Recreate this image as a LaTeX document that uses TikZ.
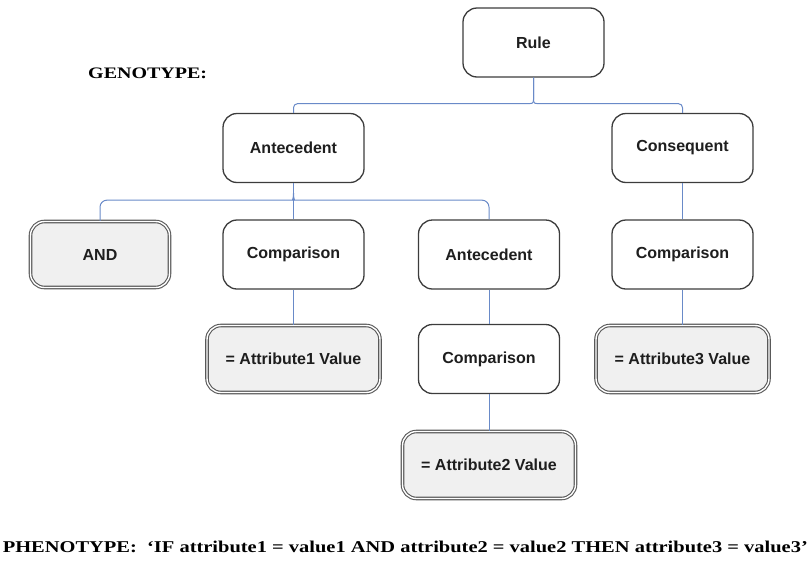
\documentclass[tikz,border=0pt]{standalone}
\usepackage{fontspec}
\setmainfont{Liberation Serif}
\setsansfont{Liberation Sans}
\usetikzlibrary{calc}
\definecolor{conncol}{RGB}{105,138,200}
\definecolor{boxline}{RGB}{60,60,60}
\definecolor{dfill}{RGB}{240,240,240}
\definecolor{txt}{RGB}{30,30,30}
\tikzset{
  box/.style={draw=boxline, line width=1.3pt, fill=white, rounded corners=14pt,
    minimum width=141pt, minimum height=69pt, inner sep=0pt, text=txt,
    font=\sffamily\bfseries\fontsize{16}{19}\selectfont},
  dbox/.style={box, fill=dfill, draw=boxline!85, line width=1.1pt, double=white,
    double distance=1.4pt, minimum width=173pt, minimum height=67pt},
  andbox/.style={dbox, minimum width=139pt, minimum height=66pt},
  conn/.style={draw=conncol, line width=1pt},
  lbl/.style={inner sep=0pt, text=black, font=\bfseries\fontsize{16.5}{19}\selectfont}
}
\begin{document}
\begin{tikzpicture}[x=1pt,y=-1pt]
\useasboundingbox (0,0) rectangle (811,560);
% nodes
\node[box] (rule) at (533.5,42.5) {Rule};
\node[box] (ant1) at (293.5,148) {Antecedent};
\node[box] (cons) at (682.5,148) {Consequent};
\node[andbox] (and) at (100,254.5) {AND};
\node[box] (cmp1) at (293.5,254.5) {Comparison};
\node[box] (ant2) at (489,254.5) {Antecedent};
\node[box] (cmp3) at (682.5,254.5) {Comparison};
\node[dbox] (att1) at (293.5,359) {= Attribute1 Value};
\node[box] (cmp2) at (489,359) {Comparison};
\node[dbox] (att3) at (682.5,359) {= Attribute3 Value};
\node[dbox] (att2) at (489,465) {= Attribute2 Value};
% labels
\node[lbl, anchor=base west] (geno) at (88,78) {\scalebox{1.25}[1]{\fontsize{16}{19}\selectfont GENOTYPE:}};
\node[lbl, anchor=base east] (pheno) at (808,552.5) {\scalebox{1.24}[1]{PHENOTYPE:\ \ ‘IF attribute1 = value1 AND attribute2 = value2 THEN attribute3 = value3’}};
% top bus
\coordinate (b1) at ($(rule.south)+(0,26)$);
\coordinate (k1) at ($(rule.south)+(0,18)$);
\draw[conn,rounded corners=4pt] (ant1.north) |- ($(b1)+(-8,0)$) .. controls +(6,0) and +(0,8) .. (k1) -- (rule.south);
\draw[conn,rounded corners=4pt] (rule.south) -- (k1) .. controls +(0,8) and +(-6,0) .. ($(b1)+(8,0)$) -| (cons.north);
% second bus
\coordinate (b2) at ($(ant1.south)+(0,17)$);
\coordinate (k2) at ($(ant1.south)+(0,10)$);
\draw[conn] (ant1.south) -- (cmp1.north);
\draw[conn,rounded corners=7pt] (and.north) |- ($(b2)+(-7,0)$) .. controls +(5,0) and +(0,7) .. (k2);
\draw[conn,rounded corners=7pt] (k2) .. controls +(0,7) and +(-5,0) .. ($(b2)+(7,0)$) -| (ant2.north);
% verticals
\draw[conn] (cons.south) -- (cmp3.north);
\draw[conn] (cmp3.south) -- (att3.north);
\draw[conn] (cmp1.south) -- (att1.north);
\draw[conn] (ant2.south) -- (cmp2.north);
\draw[conn] (cmp2.south) -- (att2.north);
\end{tikzpicture}
\end{document}
